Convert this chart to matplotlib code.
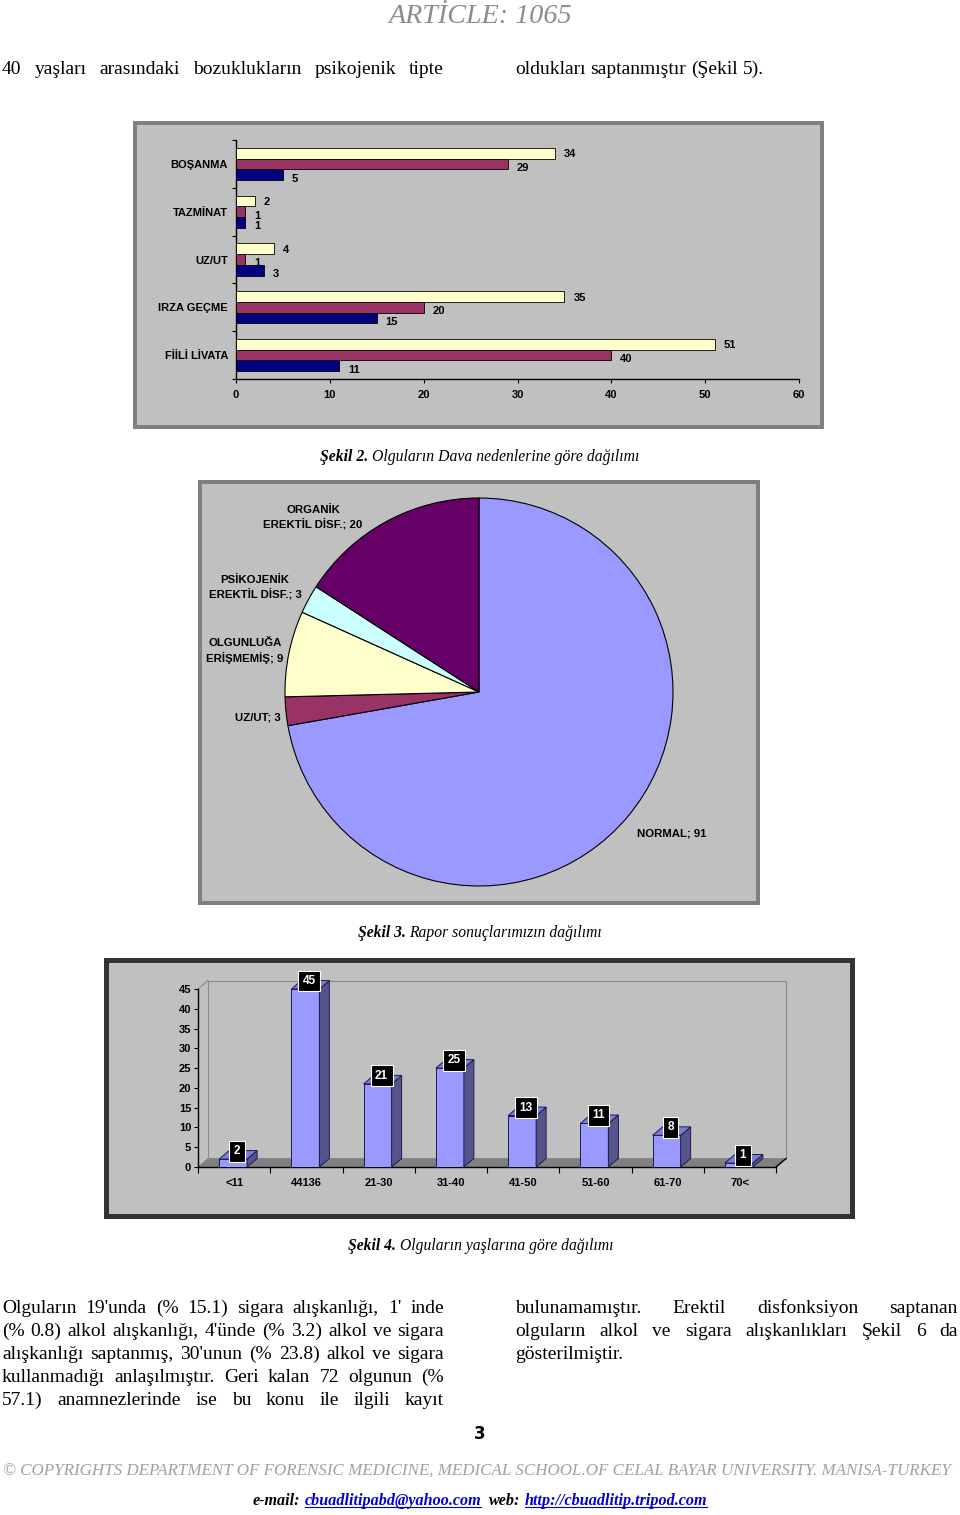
import matplotlib
matplotlib.use('Agg')
import matplotlib.pyplot as plt
from matplotlib.patches import Rectangle, Polygon
from matplotlib.lines import Line2D
import numpy as np

plt.rcParams['font.family'] = ['Liberation Sans', 'DejaVu Sans']

# ---------------- data ----------------
# Sekil 2 : horizontal grouped bars
dava_categories = ['FİİLİ LİVATA', 'IRZA GEÇME', 'UZ/UT', 'TAZMİNAT', 'BOŞANMA']
dava_series_navy = [11, 15, 3, 1, 5]
dava_series_maroon = [40, 20, 1, 1, 29]
dava_series_cream = [51, 35, 4, 2, 34]
dava_xticks = [0, 10, 20, 30, 40, 50, 60]

# Sekil 3 : pie
rapor_labels = ['NORMAL', 'UZ/UT', 'OLGUNLUĞA\nERİŞMEMİŞ', 'PSİKOJENİK\nEREKTİL DİSF.', 'ORGANİK\nEREKTİL DİSF.']
rapor_values = [91, 3, 9, 3, 20]
rapor_colors = ['#9999FF', '#993366', '#FFFFCC', '#CCFFFF', '#660066']

# Sekil 4 : 3D-look columns
age_groups = ['<11', '44136', '21-30', '31-40', '41-50', '51-60', '61-70', '70<']
age_counts = [2, 45, 21, 25, 13, 11, 8, 1]
age_yticks = [0, 5, 10, 15, 20, 25, 30, 35, 40, 45]

# ---------------- figure ----------------
W, H, DPI = 960, 1515, 100
fig = plt.figure(figsize=(W / DPI, H / DPI), dpi=DPI)
fig.patch.set_facecolor('white')
PT = 72.0 / DPI
renderer = fig.canvas.get_renderer()


def fx(x):
    return x / W


def fy(y):
    return 1 - y / H


def px_axes(x0, y0, x1, y1):
    ax = fig.add_axes([x0 / W, 1 - y1 / H, (x1 - x0) / W, (y1 - y0) / H])
    ax.set_facecolor('none')
    return ax


def frame(x0, y0, x1, y1, ec, lw_px):
    r = Rectangle((fx(x0), fy(y1)), (x1 - x0) / W, (y1 - y0) / H, transform=fig.transFigure,
                  facecolor='#C0C0C0', edgecolor=ec, linewidth=lw_px * PT, zorder=-5)
    fig.add_artist(r)


def text_width(s, **kw):
    t = fig.text(0, 0, s, **kw)
    w = t.get_window_extent(renderer=renderer).width
    t.remove()
    return w


def place_runs(runs, y_base, x_left=None, x_center=None, target=None, size=12):
    def measure(sz):
        ws = [text_width(s, fontsize=sz, **kw) for (s, kw, g, u) in runs]
        k0 = runs[0][1]
        sp = text_width('a a', fontsize=sz, **k0) - text_width('aa', fontsize=sz, **k0)
        total = sum(ws) + sum(r[2] for r in runs) * sp
        return ws, sp, total
    ws, sp, total = measure(size)
    if target:
        for _ in range(2):
            size = size * target / total
            ws, sp, total = measure(size)
    x = x_left if x_left is not None else x_center - total / 2
    for (s, kw, g, u), w in zip(runs, ws):
        x += g * sp
        fig.text(fx(x), fy(y_base), s, fontsize=size, ha='left', va='baseline', **kw)
        if u:
            fig.add_artist(Line2D([fx(x), fx(x + w)], [fy(y_base + 2), fy(y_base + 2)],
                                  color=kw.get('color', 'black'), lw=0.8, transform=fig.transFigure))
        x += w


def body_line(s, x0, x1, y_base, size=14, justify=True):
    kw = dict(family='Liberation Serif', color='black')
    words = s.split()
    for _ in range(3):
        widths = [text_width(w, fontsize=size, **kw) for w in words]
        sp = text_width('a a', fontsize=size, **kw) - text_width('aa', fontsize=size, **kw)
        total = sum(widths)
        if justify and len(words) > 1:
            gap = (x1 - x0 - total) / (len(words) - 1)
            if gap < 0.5 * sp:
                size *= (x1 - x0 - 0.5 * sp * (len(words) - 1)) / total
                continue
        else:
            gap = sp
        break
    x = x0
    for w, wd in zip(words, widths):
        fig.text(fx(x), fy(y_base), w, fontsize=size, ha='left', va='baseline', **kw)
        x += wd + gap


# ---------------- header & body text ----------------
place_runs([('ARTİCLE: 1065', dict(family='Liberation Serif', style='italic', color='#8C8C8C'), 0, False)],
           y_base=23, x_center=480, target=184, size=20)

body_line('40  yaşları  arasındaki  bozuklukların  psikojenik  tipte', 2, 444, 74)
body_line('oldukları saptanmıştır (Şekil 5).', 515, 958, 74, justify=False)

# ---------------- Chart 1 : Sekil 2 ----------------
frame(135, 123, 822, 427, '#808080', 4)
ax1 = px_axes(236, 140, 799, 379)
yc = np.arange(len(dava_categories))
bh = 0.225
ax1.barh(yc - bh, dava_series_navy, height=bh, color='#000080', edgecolor='black', linewidth=0.6, zorder=3)
ax1.barh(yc, dava_series_maroon, height=bh, color='#993366', edgecolor='black', linewidth=0.6, zorder=3)
ax1.barh(yc + bh, dava_series_cream, height=bh, color='#FFFFCC', edgecolor='black', linewidth=0.6, zorder=3)
for vals, off, dy in ((dava_series_navy, -bh, -4), (dava_series_maroon, 0, -4), (dava_series_cream, bh, -1)):
    for y, v in zip(yc, vals):
        ax1.annotate(str(v), (v, y + off), xytext=(9 * PT, dy * PT), textcoords='offset points',
                     ha='left', va='center', fontsize=8, fontweight='bold', zorder=4)
ax1.set_xlim(0, 60)
ax1.set_ylim(-0.5, 4.5)
for s in ('top', 'right'):
    ax1.spines[s].set_visible(False)
for s in ('left', 'bottom'):
    ax1.spines[s].set_linewidth(1.0)
    ax1.spines[s].set_color('black')
ax1.set_xticks(dava_xticks)
ax1.set_xticklabels([str(t) for t in dava_xticks], fontsize=8, fontweight='bold')
ax1.tick_params(axis='x', direction='out', length=4 * PT, width=0.8, pad=5)
ax1.set_yticks(np.arange(-0.5, 5.0, 1.0))
ax1.set_yticklabels([])
ax1.set_yticks(yc, minor=True)
ax1.set_yticklabels(dava_categories, minor=True, fontsize=8, fontweight='bold')
ax1.tick_params(axis='y', which='major', direction='out', length=4 * PT, width=0.8)
ax1.tick_params(axis='y', which='minor', length=0, pad=8 * PT)

place_runs([('Şekil 2.', dict(family='Liberation Serif', style='italic', weight='bold'), 0, False),
            ('Olguların Dava nedenlerine göre dağılımı', dict(family='Liberation Serif', style='italic'), 1, False)],
           y_base=461, x_center=480, target=319, size=12)

# ---------------- Chart 2 : Sekil 3 ----------------
frame(200, 482, 758, 903, '#7F7F7F', 4)
R = 194
ax2 = px_axes(479 - R, 692 - R, 479 + R, 692 + R)
wedges, _ = ax2.pie(rapor_values, colors=rapor_colors, startangle=90, counterclock=False, radius=1,
                    wedgeprops=dict(edgecolor='black', linewidth=0.8))
for w in wedges:
    w.set_clip_on(False)
ax2.set_xlim(-1, 1)
ax2.set_ylim(-1, 1)
ax2.set_aspect('equal')
ax2.axis('off')
pie_label_pos = [(672, 833), (258, 717), (245, 651), (255, 588), (313, 518)]
for lab, val, (x, y) in zip(rapor_labels, rapor_values, pie_label_pos):
    fig.text(fx(x), fy(y), f'{lab}; {val}', ha='center', va='center', multialignment='center',
             fontsize=8.2, fontweight='bold', linespacing=1.45)

place_runs([('Şekil 3.', dict(family='Liberation Serif', style='italic', weight='bold'), 0, False),
            ('Rapor sonuçlarımızın dağılımı', dict(family='Liberation Serif', style='italic'), 1, False)],
           y_base=937, x_center=480, target=244, size=12)

# ---------------- Chart 3 : Sekil 4 ----------------
frame(105.5, 959.5, 851.5, 1215.5, '#333333', 5)
CAT_PX = 72.25
UNIT_PX = 178.0 / 45.0
X0, Y0 = 198, 1167
ax_right, ax_top = 790, 965
ax3 = px_axes(X0, ax_top, ax_right, Y0)
ax3.set_xlim(0, (ax_right - X0) / CAT_PX)
ax3.set_ylim(0, (Y0 - ax_top) / UNIT_PX)
ncat = len(age_groups)
ymax = age_yticks[-1]
ddx = 10 / CAT_PX
ddy = 8.5 / UNIT_PX
# floor and back wall
ax3.add_patch(Polygon([(0, 0), (ncat, 0), (ncat + ddx, ddy), (ddx, ddy)], closed=True,
                      facecolor='#808080', edgecolor='#808080', linewidth=0.5, zorder=1))
ax3.plot([ddx, ddx, ncat + ddx, ncat + ddx], [ddy, ymax + ddy, ymax + ddy, ddy], color='#8A8A8A', lw=0.8, zorder=1)
ax3.plot([0, ddx], [ymax, ymax + ddy], color='#8A8A8A', lw=0.8, zorder=1)
ax3.plot([ncat, ncat + ddx], [0, ddy], color='black', lw=1.0, zorder=2, clip_on=False)

centers = np.arange(ncat) + 0.5 - 1.0 / CAT_PX
bw = 28 / CAT_PX
ec = '#1C1C50'
ax3.bar(centers, age_counts, width=bw, color='#9999FF', edgecolor=ec, linewidth=0.7, zorder=3)
for c, v in zip(centers, age_counts):
    xr = c + bw / 2
    xl = c - bw / 2
    ax3.add_patch(Polygon([(xr, 0), (xr + ddx, ddy), (xr + ddx, v + ddy), (xr, v)], closed=True,
                          facecolor='#55558C', edgecolor=ec, linewidth=0.7, zorder=3))
    ax3.add_patch(Polygon([(xl, v), (xr, v), (xr + ddx, v + ddy), (xl + ddx, v + ddy)], closed=True,
                          facecolor='#7C7CD6', edgecolor=ec, linewidth=0.7, zorder=3))
    ax3.text(c + 4 / CAT_PX, v + 8 / UNIT_PX, str(v), ha='center', va='center', color='white',
             fontsize=8.5, fontweight='bold', zorder=6,
             bbox=dict(boxstyle='square,pad=0.38', facecolor='black', edgecolor='white', linewidth=0.8))

for s in ('top', 'right'):
    ax3.spines[s].set_visible(False)
ax3.spines['left'].set_bounds(0, ymax)
ax3.spines['bottom'].set_bounds(0, ncat)
for s in ('left', 'bottom'):
    ax3.spines[s].set_linewidth(1.0)
    ax3.spines[s].set_color('black')
ax3.set_yticks(age_yticks)
ax3.set_yticklabels([str(t) for t in age_yticks], fontsize=8, fontweight='bold')
ax3.tick_params(axis='y', direction='out', length=4 * PT, width=0.8, pad=2)
ax3.set_xticks(np.arange(ncat + 1))
ax3.set_xticklabels([])
ax3.set_xticks(np.arange(ncat) + 0.5, minor=True)
ax3.set_xticklabels(age_groups, minor=True, fontsize=8, fontweight='bold')
ax3.tick_params(axis='x', which='major', direction='out', length=6 * PT, width=0.8)
ax3.tick_params(axis='x', which='minor', length=0, pad=11 * PT)

place_runs([('Şekil 4.', dict(family='Liberation Serif', style='italic', weight='bold'), 0, False),
            ('Olguların yaşlarına göre dağılımı', dict(family='Liberation Serif', style='italic'), 1, False)],
           y_base=1250, x_center=481, target=266, size=12)

# ---------------- bottom body text ----------------
left_lines = [
    "Olguların 19'unda (% 15.1) sigara alışkanlığı, 1' inde",
    "(% 0.8) alkol alışkanlığı, 4'ünde (% 3.2) alkol ve sigara",
    "alışkanlığı saptanmış, 30'unun (% 23.8) alkol ve sigara",
    "kullanmadığı anlaşılmıştır. Geri kalan 72 olgunun (%",
    "57.1) anamnezlerinde ise bu konu ile ilgili kayıt",
]
right_lines = [
    "bulunamamıştır. Erektil disfonksiyon saptanan",
    "olguların alkol ve sigara alışkanlıkları Şekil 6 da",
    "gösterilmiştir.",
]
base0 = 1313
for i, s in enumerate(left_lines):
    body_line(s, 2, 444, base0 + 23 * i)
for i, s in enumerate(right_lines):
    body_line(s, 515, 958, base0 + 23 * i, justify=(i < len(right_lines) - 1))

fig.text(fx(480), fy(1434), '3', ha='center', va='center', fontsize=12, fontweight='bold', family='DejaVu Sans')

place_runs([('© COPYRIGHTS DEPARTMENT OF FORENSIC MEDICINE, MEDICAL SCHOOL.OF CELAL BAYAR UNIVERSITY. MANISA-TURKEY',
             dict(family='Liberation Serif', style='italic', color='#A0A0A0'), 0, False)],
           y_base=1476, x_left=3, target=951, size=13)

bi = dict(family='Liberation Serif', style='italic', weight='bold', color='black')
bl = dict(family='Liberation Serif', style='italic', weight='bold', color='#0000CC')
place_runs([('e-mail:', bi, 0, False), ('cbuadlitipabd@yahoo.com', bl, 1, True),
            ('web:', bi, 2, False), ('http://cbuadlitip.tripod.com', bl, 1, True)],
           y_base=1505, x_center=480, target=453, size=12)

fig.savefig('out.png', dpi=DPI, facecolor='white')
